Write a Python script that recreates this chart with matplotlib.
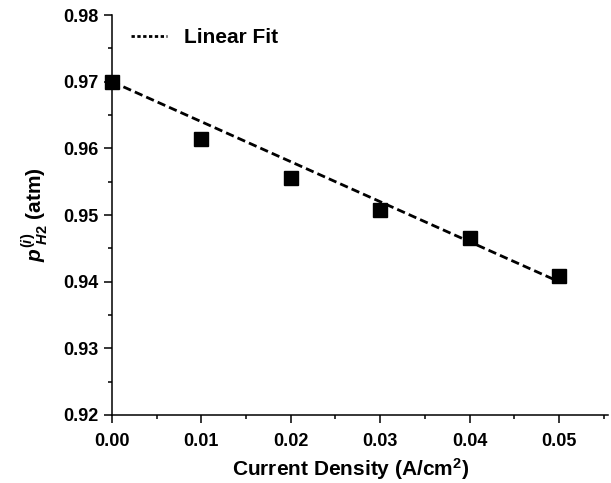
import matplotlib
matplotlib.use('Agg')
import matplotlib.pyplot as plt
import numpy as np
from matplotlib.ticker import MultipleLocator, FormatStrFormatter
from matplotlib.lines import Line2D

plt.rcParams['font.family'] = ['Liberation Sans', 'DejaVu Sans']
plt.rcParams['font.weight'] = 'bold'
plt.rcParams['mathtext.fontset'] = 'custom'
plt.rcParams['mathtext.rm'] = 'Liberation Sans:bold'
plt.rcParams['mathtext.it'] = 'Liberation Sans:italic:bold'
plt.rcParams['mathtext.bf'] = 'Liberation Sans:bold'

# measured hydrogen partial pressure vs current density
current_density = [0.00, 0.01, 0.02, 0.03, 0.04, 0.05]
p_h2 = [0.9700, 0.9614, 0.9556, 0.9508, 0.9465, 0.9409]

# fitted line: p = fit_intercept + fit_slope * i
fit_intercept = 0.970
fit_slope = -0.60

fig = plt.figure(figsize=(6.11, 4.83), dpi=100)
ax = fig.add_axes([0.1833, 0.1408, 0.812, 0.828])

xfit = np.array([current_density[0], current_density[-1]])
ax.plot(xfit, fit_intercept + fit_slope * xfit, color='black', lw=2.0,
        linestyle=(0, (3.0, 1.5)), zorder=2)
ax.plot(current_density, p_h2, 's', color='black', ms=9.8,
        linestyle='none', clip_on=False, zorder=3)

ax.set_xlim(0, 0.0555)
ax.set_ylim(0.92, 0.98)
ax.xaxis.set_major_locator(MultipleLocator(0.01))
ax.xaxis.set_minor_locator(MultipleLocator(0.005))
ax.yaxis.set_major_locator(MultipleLocator(0.01))
ax.yaxis.set_minor_locator(MultipleLocator(0.005))
ax.xaxis.set_major_formatter(FormatStrFormatter('%.2f'))
ax.yaxis.set_major_formatter(FormatStrFormatter('%.2f'))

ax.spines['top'].set_visible(False)
ax.spines['right'].set_visible(False)
for s in ['left', 'bottom']:
    ax.spines[s].set_linewidth(1.1)
ax.tick_params(which='major', direction='out', length=6, width=1.1,
               labelsize=13)
ax.tick_params(axis='x', which='major', pad=7)
ax.tick_params(axis='y', which='major', pad=4)
ax.tick_params(which='minor', direction='out', length=3, width=1.1)

ax.set_xlabel('Current Density (A/cm$^{2}$)', fontsize=15, fontweight='bold')
ax.xaxis.set_label_coords(0.48, -0.102)
ax.set_ylabel(r'$p^{\mathit{(i)}}_{\ H2}$ (atm)', fontsize=15,
              fontweight='bold', labelpad=9)

# legend handle uses shorter dashes than the plotted line
fit_handle = Line2D([], [], color='black', lw=2.0, linestyle=(0, (1.2, 0.9)))
ax.legend([fit_handle], ['Linear Fit'], loc='upper left', frameon=False,
          handlelength=1.75, handletextpad=0.8, bbox_to_anchor=(0.0, 1.015),
          prop={'weight': 'bold', 'size': 15})

fig.savefig('out.png', dpi=100)
